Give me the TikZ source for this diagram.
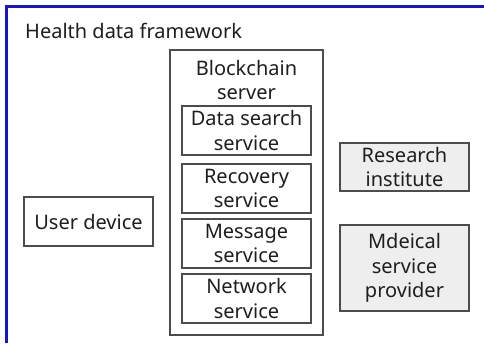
\documentclass[tikz,border=0pt]{standalone}
\usepackage{fontspec}
\setmainfont{Noto Sans}
\definecolor{frameblue}{RGB}{20,20,210}
\definecolor{txt}{RGB}{30,30,30}
\definecolor{boxgray}{RGB}{238,238,238}
\tikzset{
  lbl/.style={font=\fontsize{20}{24.5}\selectfont, text=txt, align=center, inner sep=0pt},
  box/.style={draw=black!70, line width=1.2pt, rectangle, inner sep=0pt, lbl},
  svc/.style={box, minimum width=129pt, minimum height=49pt},
  ext/.style={box, fill=boxgray, minimum width=129pt},
}
\begin{document}
\begin{tikzpicture}[x=1pt,y=-1pt]
\useasboundingbox (0,0) rectangle (484,343);
\fill[white] (0,0) rectangle (484,343);
\draw[frameblue, line width=3pt] (6,343) -- (6,6) -- (484,6);
\node[lbl, anchor=base west] (title) at (25,38) {Health data framework};
\node[box, minimum width=153pt, minimum height=285pt] (bc) at (246.5,192.5) {};
\node[lbl] (bclabel) at (246.5,80) {Blockchain\\server};
\node[svc] (search) at (246.5,130.5) {Data search\\service};
\node[svc] (recovery) at (246.5,188.5) {Recovery\\service};
\node[svc] (message) at (246.5,243.5) {Message\\service};
\node[svc] (network) at (246.5,298.5) {Network\\service};
\node[svc] (user) at (88.5,221.5) {User device};
\node[ext, minimum height=48pt] (research) at (404.5,167) {Research\\institute};
\node[ext, minimum height=86pt] (medical) at (404.5,268) {Mdeical\\service\\provider};
\end{tikzpicture}
\end{document}
